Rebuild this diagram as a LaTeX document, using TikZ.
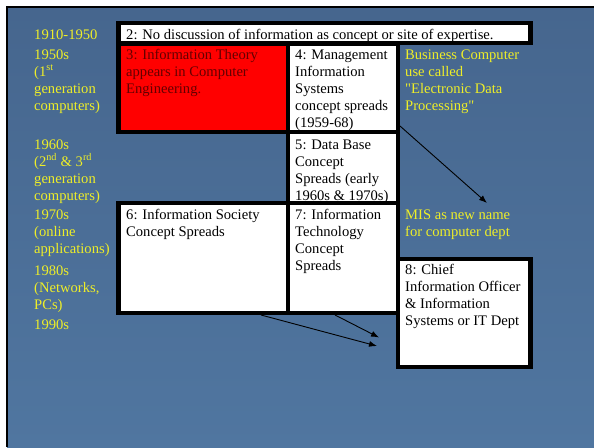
\documentclass[tikz,border=0pt]{standalone}
\usepackage{fontspec}
\setmainfont{Liberation Serif}[Ligatures=TeXOff]
\usetikzlibrary{arrows.meta}
\definecolor{bgtop}{RGB}{70,102,142}
\definecolor{bgbot}{RGB}{80,118,160}
\definecolor{yel}{RGB}{238,238,40}
\definecolor{boxred}{RGB}{255,0,0}
\definecolor{redtext}{RGB}{100,0,0}
\newcommand{\firstln}{\rule{0pt}{12pt}}
\tikzset{
  cell/.style={draw=black, line width=4.2pt, fill=white},
  yeartxt/.style={anchor=north west, inner sep=0pt, text=yel, align=left,
    font=\fontsize{14.6}{17}\selectfont},
  boxtxt/.style={anchor=north west, inner sep=0pt, text=black, align=left,
    font=\fontsize{14.6}{17}\selectfont},
  conn/.style={black, line width=0.9pt, -{Latex[length=8pt,width=6pt]}}
}
\begin{document}
\begin{tikzpicture}[x=1pt,y=-1pt]
\useasboundingbox (0,0) rectangle (594,447);
% page and slide background
\fill[white] (0,0) rectangle (594,447);
\shade[top color=bgtop, bottom color=bgbot] (7,7) rectangle (594,447);
\draw[black, line width=2.4pt] (7.2,447) -- (7.2,7.2) -- (594,7.2);

% cells
\draw[cell] (118.5,23) rectangle (530.5,43);
\draw[cell, fill=boxred] (118.5,44) rectangle (288,132);
\draw[cell] (288,44) rectangle (398,132);
\draw[cell] (288,132) rectangle (398,203);
\draw[cell] (118.5,203) rectangle (288,313);
\draw[cell] (288,203) rectangle (398,313);
\draw[cell] (398,259) rectangle (530.5,367);

% box texts (positions are first baseline minus 12pt)
\node[boxtxt] (b2) at (126,27) {\firstln 2: No discussion of information as concept or site of expertise.};
\node[boxtxt, text=redtext] (b3) at (126,47) {\firstln 3: Information Theory\\appears in Computer\\Engineering.};
\node[boxtxt] (b4) at (295,47) {\firstln 4: Management\\Information\\Systems\\concept spreads\\(1959-68)};
\node[boxtxt] (b5) at (295,137) {\firstln 5: Data Base\\Concept\\Spreads (early\\1960s \& 1970s)};
\node[boxtxt] (b6) at (126,207) {\firstln 6: Information Society\\Concept Spreads};
\node[boxtxt] (b7) at (295,207) {\firstln 7: Information\\Technology\\Concept\\Spreads};
\node[boxtxt] (b8) at (405,262) {\firstln 8: Chief\\Information Officer\\\& Information\\Systems or IT Dept};

% yellow labels
\node[yeartxt] (y1) at (34,27) {\firstln 1910-1950};
\node[yeartxt] (y2) at (34,47) {\firstln 1950s\\(1\textsuperscript{st}\\generation\\computers)};
\node[yeartxt] (y3) at (34,137) {\firstln 1960s\\(2\textsuperscript{nd} \& 3\textsuperscript{rd}\\generation\\computers)};
\node[yeartxt] (y4) at (34,207) {\firstln 1970s\\(online\\applications)};
\node[yeartxt] (y5) at (34,263) {\firstln 1980s\\(Networks,\\PCs)};
\node[yeartxt] (y6) at (34,317) {\firstln 1990s};
\node[yeartxt] (r1) at (405,47) {\firstln Business Computer\\use called\\"Electronic Data\\Processing"};
\node[yeartxt] (r2) at (405,207) {\firstln MIS as new name\\for computer dept};

% connectors
\coordinate (a1s) at (400,126);
\coordinate (a1e) at (487,203);
\coordinate (a2s) at (335,315);
\coordinate (a2e) at (379,337.5);
\coordinate (a3s) at (261,315);
\coordinate (a3e) at (377,346);
\draw[conn] (a1s) -- (a1e);
\draw[conn] (a2s) -- (a2e);
\draw[conn] (a3s) -- (a3e);
\end{tikzpicture}
\end{document}
